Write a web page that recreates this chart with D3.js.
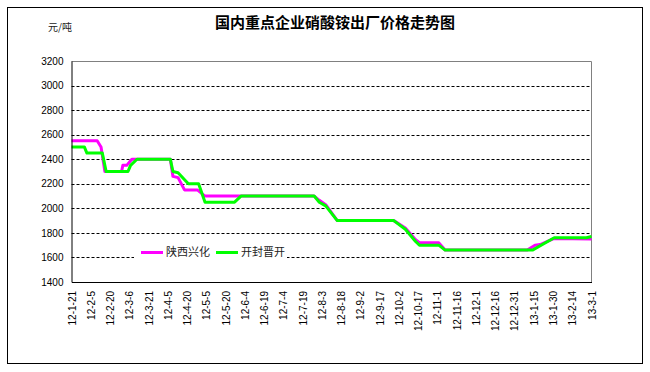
<!DOCTYPE html>
<html>
<head>
<meta charset="utf-8">
<script src="https://cdn.jsdelivr.net/npm/d3@7"></script>
<style>
  body { margin: 0; background: #fff; }
  svg { display: block; }
</style>
</head>
<body>
<svg id="chart" width="650" height="372"></svg>
<script>
// tick labels on the date axis (every 15 days)
let tick_labels = ["12-1-21", "12-2-5", "12-2-20", "12-3-6", "12-3-21", "12-4-5", "12-4-20",
  "12-5-5", "12-5-20", "12-6-4", "12-6-19", "12-7-4", "12-7-19", "12-8-3", "12-8-18",
  "12-9-2", "12-9-17", "12-10-2", "12-10-17", "12-11-1", "12-11-16", "12-12-1",
  "12-12-16", "12-12-31", "13-1-15", "13-1-30", "13-2-14", "13-3-1"]

let y_ticks = [1400, 1600, 1800, 2000, 2200, 2400, 2600, 2800, 3000, 3200]

let series_names = ["陕西兴化", "开封晋开"]

// 陕西兴化
let xh_dates = ["2012-01-21", "2012-02-10", "2012-02-13", "2012-02-16", "2012-02-29",
  "2012-03-01", "2012-03-04", "2012-03-08", "2012-04-07", "2012-04-09", "2012-04-13",
  "2012-04-18", "2012-04-28", "2012-05-04", "2012-06-01", "2012-07-28", "2012-08-01",
  "2012-08-06", "2012-08-15", "2012-09-28", "2012-10-07", "2012-10-15", "2012-10-18",
  "2012-11-02", "2012-11-07", "2013-01-10", "2013-01-16", "2013-01-20", "2013-01-31",
  "2013-03-01"]
let xh_values = [2550, 2550, 2500, 2300, 2300,
  2350, 2350, 2400, 2400, 2260, 2250,
  2150, 2150, 2100, 2100, 2100, 2065,
  2030, 1900, 1900, 1840, 1745, 1720,
  1720, 1660, 1660, 1700, 1705, 1755,
  1750]

// 开封晋开
let jk_dates = ["2012-01-21", "2012-01-31", "2012-02-02", "2012-02-14", "2012-02-17",
  "2012-03-05", "2012-03-07", "2012-03-12", "2012-04-07", "2012-04-09", "2012-04-13",
  "2012-04-21", "2012-04-29", "2012-05-04", "2012-05-27", "2012-06-01", "2012-07-28",
  "2012-08-01", "2012-08-06", "2012-08-15", "2012-09-28", "2012-10-07", "2012-10-15",
  "2012-10-18", "2012-11-02", "2012-11-07", "2013-01-14", "2013-01-31", "2013-02-25",
  "2013-03-01"]
let jk_values = [2500, 2500, 2450, 2450, 2300,
  2300, 2350, 2400, 2400, 2300, 2290,
  2200, 2200, 2050, 2050, 2100, 2100,
  2050, 2020, 1900, 1900, 1830, 1730,
  1700, 1700, 1660, 1660, 1760, 1760,
  1770]

let colors = ["#ff00ff", "#00ff00"]

let width = 650,
    height = 372,
    margins = {top: 61, bottom: 90, left: 71.5, right: 58.5}

let parse_day = d3.timeParse("%Y-%m-%d"),
    parse_tick = d3.timeParse("%y-%m-%d")

function zip(dates, values) {
  return dates.map((d, i) => ({date: parse_day(d), value: values[i]}))
}

function make_scales() {
  let ticks = tick_labels.map(parse_tick)
  return {
    x: d3.scaleTime()
         .domain([ticks[0], ticks[ticks.length - 1]])
         .range([margins.left, width - margins.right]),
    y: d3.scaleLinear()
         .domain([1400, 3200])
         .range([height - margins.bottom, margins.top]),
    ticks: ticks
  }
}

function draw_frame(svg, scales) {
  svg.append("rect")
    .attr("x", 7.5).attr("y", 7.5)
    .attr("width", 635).attr("height", 356)
    .attr("fill", "#fff").attr("stroke", "#000").attr("stroke-width", 1)

  // plot area border (top and right in gray)
  svg.append("path")
    .attr("d", `M${margins.left},${margins.top + 0.5}H${width - margins.right}V${height - margins.bottom}`)
    .attr("fill", "none").attr("stroke", "#808080")

  svg.append("text")
    .attr("x", 335).attr("y", 28)
    .attr("text-anchor", "middle")
    .attr("font-family", "Noto Sans CJK SC")
    .attr("font-weight", "bold")
    .attr("font-size", 15)
    .text("国内重点企业硝酸铵出厂价格走势图")

  svg.append("text")
    .attr("x", 48).attr("y", 31)
    .attr("font-family", "Noto Sans CJK SC")
    .attr("font-size", 10)
    .attr("fill", "#222")
    .text("元/吨")
}

function add_grid(svg, scales) {
  svg.append("g")
    .selectAll("line")
    .data(y_ticks.filter(v => v > 1400 && v < 3200)).enter()
    .append("line")
    .attr("x1", margins.left).attr("x2", width - margins.right)
    .attr("y1", d => Math.round(scales.y(d)) + 0.5)
    .attr("y2", d => Math.round(scales.y(d)) + 0.5)
    .attr("stroke", "#000")
    .attr("stroke-dasharray", "3,2")
}

function add_axes(svg, scales) {
  let y_axis = d3.axisLeft(scales.y)
    .tickValues(y_ticks)
    .tickFormat(d3.format("d"))
    .tickSize(0)
    .tickPadding(8)
  svg.append("g")
    .attr("transform", `translate(${margins.left},0)`)
    .call(y_axis)
    .call(g => g.select(".domain").attr("stroke", "#000"))
    .selectAll("text")
    .attr("font-family", "Liberation Sans")
    .attr("font-size", 10)
    .attr("fill", "#000")

  let x_axis = d3.axisBottom(scales.x)
    .tickValues(scales.ticks)
    .tickFormat((d, i) => tick_labels[i])
    .tickSize(0)
  svg.append("g")
    .attr("transform", `translate(0,${height - margins.bottom})`)
    .call(x_axis)
    .call(g => g.select(".domain").attr("stroke", "#000"))
    .selectAll("text")
    .attr("font-family", "Liberation Sans")
    .attr("font-size", 10)
    .attr("fill", "#000")
    .attr("text-anchor", "end")
    .attr("transform", "rotate(-90)")
    .attr("x", -9)
    .attr("y", 0)
    .attr("dy", "0.35em")
}

function draw_lines(svg, scales) {
  let path_generator = d3.line()
    .x(d => scales.x(d.date))
    .y(d => scales.y(d.value))
  let series = [zip(xh_dates, xh_values), zip(jk_dates, jk_values)]

  svg.append("g")
    .selectAll("path")
    .data(series).enter()
    .append("path")
    .attr("d", path_generator)
    .attr("fill", "none")
    .attr("stroke", (d, i) => colors[i])
    .attr("stroke-width", 3)
    .attr("stroke-linejoin", "round")
}

function add_legend(svg) {
  let g = svg.append("g")
  g.append("rect")
    .attr("x", 134).attr("y", 244)
    .attr("width", 153).attr("height", 17)
    .attr("fill", "#fff")
  let item = g.selectAll("g")
    .data(series_names).enter()
    .append("g")
    .attr("transform", (d, i) => `translate(${141 + i * 75},252.5)`)
  item.append("line")
    .attr("x1", 0).attr("x2", 22)
    .attr("stroke", (d, i) => colors[i])
    .attr("stroke-width", 3)
  item.append("text")
    .attr("x", 25).attr("dy", "0.35em")
    .attr("font-family", "Noto Sans CJK SC")
    .attr("font-size", 11)
    .attr("fill", "#222")
    .text(d => d)
}

function visualize() {
  let svg = d3.select("#chart")
  let scales = make_scales()
  draw_frame(svg, scales)
  add_grid(svg, scales)
  draw_lines(svg, scales)
  add_axes(svg, scales)
  add_legend(svg)
}

visualize()
</script>
</body>
</html>
